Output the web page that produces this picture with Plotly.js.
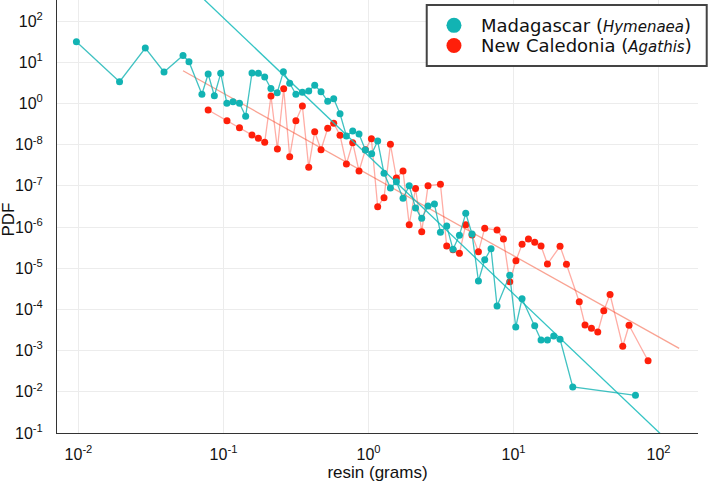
<!DOCTYPE html>
<html>
<head>
<meta charset="utf-8">
<script src="https://cdn.plot.ly/plotly-3.0.1.min.js"></script>
<style>
  html, body { margin: 0; padding: 0; background: #fff; }
  #chart { width: 708px; height: 484px; }
</style>
</head>
<body>
<div id="chart"></div>
<script>
// Resin piece sizes (grams) and their binned probability density
const madagascarMass = [0.00968, 0.0192, 0.0289, 0.0389, 0.0526, 0.0578, 0.0710, 0.0784, 0.0865, 0.0957,
  0.1055, 0.1163, 0.1289, 0.1422, 0.1572, 0.1740, 0.1924, 0.2123, 0.2346, 0.2588,
  0.2861, 0.3157, 0.3500, 0.3870, 0.4256, 0.4704, 0.5232, 0.5754, 0.6360, 0.7040,
  0.7780, 0.8601, 0.9519, 1.052, 1.157, 1.279, 1.416, 1.557, 1.730, 1.909,
  2.110, 2.328, 2.573, 2.848, 3.133, 3.462, 3.826, 4.236, 4.682, 5.174,
  5.727, 6.330, 6.997, 7.696, 9.414, 10.36, 11.45, 14.00, 15.48, 17.13,
  18.93, 20.93, 25.61, 69.30];
const madagascarPdf = [31.45, 3.363, 22.12, 5.782, 14.54, 10.28, 1.663, 5.171, 1.538, 5.378,
  1.006, 1.100, 1.006, 0.4890, 5.470, 5.378, 4.373, 2.300, 1.818, 5.848,
  3.075, 1.663, 1.859, 2.000, 2.750, 1.923, 1.125, 1.300, 0.5623, 0.1617,
  0.2138, 0.1809, 0.07393, 0.06012, 0.1223, 0.02011, 0.008844, 0.01258, 0.004972, 0.01,
  0.002892, 0.001626, 0.003233, 0.003617, 0.0007437, 0.001057, 0.0002875, 0.0006288, 0.00215, 0.0006763,
  0.0000489, 0.0001608, 0.0002973, 0.00001209, 0.00006763, 3.739e-6, 1.818e-5, 4.022e-6, 1.809e-6, 1.809e-6,
  2.262e-6, 1.880e-6, 1.308e-7, 8.222e-8];

const caledoniaMass = [0.0784, 0.1057, 0.1289, 0.1572, 0.1740, 0.1924, 0.2126, 0.2353, 0.2601, 0.2861,
  0.3157, 0.3500, 0.3870, 0.4256, 0.4704, 0.5232, 0.5754, 0.6360, 0.7040, 0.7780,
  0.8601, 0.9519, 1.047, 1.157, 1.279, 1.416, 1.557, 1.730, 1.909, 2.110,
  2.328, 2.573, 3.133, 3.462, 3.826, 4.236, 4.682, 5.174, 5.727, 6.330,
  7.696, 8.518, 9.414, 10.39, 11.45, 12.67, 14.00, 15.48, 17.13, 20.93,
  23.17, 28.39, 31.12, 34.45, 38.08, 41.90, 46.30, 56.63, 62.60, 84.67];
const caledoniaPdf = [0.6915, 0.3802, 0.2571, 0.1710, 0.1422, 0.1137, 1.512, 0.07816, 2.274, 0.05085,
  0.3802, 0.8648, 0.02812, 0.2056, 0.07516, 0.2486, 0.3289, 0.1681, 0.03381, 0.1112,
  0.02286, 0.075, 0.1390, 0.003110, 0.005142, 0.1017, 0.01546, 0.02286, 0.001137, 0.008600,
  0.0007689, 0.01006, 0.01088, 0.0003457, 0.0002812, 0.0002299, 0.001137, 0.0006395, 0.0002515, 0.0009299,
  0.0008459, 0.0005112, 0.00004703, 0.0001521, 0.0003802, 0.0005112, 0.0004252, 0.0003457, 0.0001264, 0.0003401,
  0.0001243, 1.537e-5, 4.182e-6, 3.477e-6, 2.828e-6, 9.299e-6, 2.299e-5, 1.272e-6, 4.112e-6, 5.686e-7];

// Power-law fits: pdf = amplitude * mass^exponent
const madagascarFit = { amplitude: 0.053, exponent: -3.35, massFrom: 0.03, massTo: 150 };
const caledoniaFit = { amplitude: 0.0188, exponent: -1.97, massFrom: 0.0526, massTo: 138.7 };

const seriesNames = ['Madagascar (<span style="font-size:15px"><i>Hymenaea</i></span>)',
                     'New Caledonia (<span style="font-size:15px"><i>Agathis</i></span>)'];

// Decade ticks and their printed labels
const xTickVals = [0.01, 0.1, 1, 10, 100];
const xTickText = ['10<sup>-2</sup>', '10<sup>-1</sup>', '10<sup>0</sup>', '10<sup>1</sup>', '10<sup>2</sup>'];
const yTickVals = [1e2, 1e1, 1e0, 1e-1, 1e-2, 1e-3, 1e-4, 1e-5, 1e-6, 1e-7, 1e-8];
const yTickText = ['10<sup>2</sup>', '10<sup>1</sup>', '10<sup>0</sup>', '10<sup>-8</sup>', '10<sup>-7</sup>',
  '10<sup>-6</sup>', '10<sup>-5</sup>', '10<sup>-4</sup>', '10<sup>-3</sup>', '10<sup>-2</sup>', '10<sup>-1</sup>'];

const TEAL = '#12b3b3';
const RED = '#ff1f0a';
const seriesColors = [TEAL, RED];

function fitLine(fit) {
  const xs = [fit.massFrom, fit.massTo];
  return { x: xs, y: xs.map(m => fit.amplitude * Math.pow(m, fit.exponent)) };
}

const cf = fitLine(caledoniaFit);
const mf = fitLine(madagascarFit);

const traces = [
  { x: cf.x, y: cf.y, mode: 'lines', line: { color: 'rgba(248,140,120,0.8)', width: 1.3 },
    hoverinfo: 'skip' },
  { x: caledoniaMass, y: caledoniaPdf, mode: 'lines+markers', name: 'New Caledonia',
    line: { color: 'rgba(255,60,40,0.42)', width: 1.3 },
    marker: { color: RED, size: 7 } },
  { x: mf.x, y: mf.y, mode: 'lines', line: { color: 'rgba(30,190,190,0.9)', width: 1.3 },
    hoverinfo: 'skip' },
  { x: madagascarMass, y: madagascarPdf, mode: 'lines+markers', name: 'Madagascar',
    line: { color: 'rgba(18,179,179,0.8)', width: 1.3 },
    marker: { color: TEAL, size: 7 } }
];

// Legend box, drawn in paper coordinates so it can overhang the plot's right edge
const legendBox = { x0: 0.5768, x1: 1.0136, y0: 0.8476, y1: 0.98845 };
const legendSymbolX = 0.6193;
const legendTextX = 0.6589;
const legendRowY = [0.9415, 0.8950];

const shapes = [
  { type: 'rect', xref: 'paper', yref: 'paper', x0: legendBox.x0, x1: legendBox.x1,
    y0: legendBox.y0, y1: legendBox.y1, fillcolor: '#fff', line: { color: '#444', width: 2 }, layer: 'above' }
];
const annotations = [];
seriesNames.forEach((name, i) => {
  shapes.push({ type: 'circle', xref: 'paper', yref: 'paper', xsizemode: 'pixel', ysizemode: 'pixel',
    xanchor: legendSymbolX, yanchor: legendRowY[i], x0: -7.5, x1: 7.5, y0: -7.5, y1: 7.5,
    fillcolor: seriesColors[i], line: { width: 0 }, layer: 'above' });
  annotations.push({ xref: 'paper', yref: 'paper', x: legendTextX, y: legendRowY[i],
    xanchor: 'left', yanchor: 'middle', showarrow: false, text: name,
    font: { family: 'DejaVu Sans, sans-serif', size: 18, color: '#111' } });
});

// Vertical axis title
annotations.push({ xref: 'paper', yref: 'paper', x: -0.0755, y: 0.492, xanchor: 'center', yanchor: 'middle',
  textangle: -90, showarrow: false, text: 'PDF',
  font: { family: 'Liberation Sans, Arial, sans-serif', size: 17, color: '#111' } });

const axisFont = { family: 'Liberation Sans, Arial, sans-serif', size: 16, color: '#111' };
const titleFont = { family: 'Liberation Sans, Arial, sans-serif', size: 17, color: '#111' };

const layout = {
  width: 708, height: 484,
  margin: { l: 57, r: 10, t: 0, b: 51 },
  paper_bgcolor: '#fff', plot_bgcolor: '#fff',
  showlegend: false,
  shapes: shapes,
  annotations: annotations,
  xaxis: {
    type: 'log', range: [-2.148, 2.272],
    tickmode: 'array', tickvals: xTickVals, ticktext: xTickText,
    tickfont: axisFont, ticks: '', ticklabelstandoff: 7,
    showgrid: true, gridcolor: '#ececec', gridwidth: 1,
    showline: true, linecolor: '#333', linewidth: 1, zeroline: false,
    title: { text: 'resin (grams)', font: titleFont, standoff: 3 }
  },
  yaxis: {
    type: 'log', range: [-8.0, 2.51],
    tickmode: 'array', tickvals: yTickVals, ticktext: yTickText,
    tickfont: axisFont, ticks: '', ticklabelstandoff: 10,
    showgrid: true, gridcolor: '#ececec', gridwidth: 1,
    showline: true, linecolor: '#333', linewidth: 1, zeroline: false
  }
};

Plotly.newPlot('chart', traces, layout, { displayModeBar: false, staticPlot: true });
</script>
</body>
</html>
